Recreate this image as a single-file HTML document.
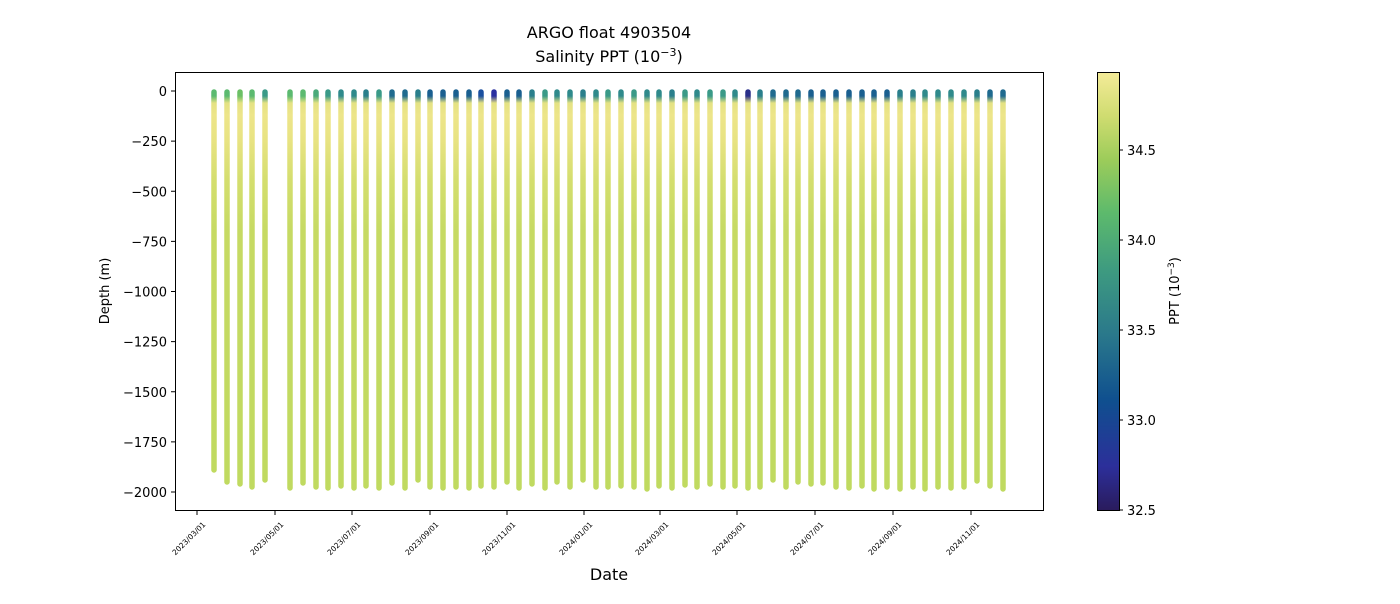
<!DOCTYPE html>
<html><head><meta charset="utf-8"><style>
body{margin:0;background:#fff;font-family:"DejaVu Sans","Liberation Sans",sans-serif;}
svg text{font-family:"DejaVu Sans","Liberation Sans",sans-serif;}
</style></head><body>
<svg id="s" width="1400" height="600" xmlns="http://www.w3.org/2000/svg">
<defs>
<linearGradient id="cb" x1="0" y1="1" x2="0" y2="0">
<stop offset="0" stop-color="#2a1b5c"/>
<stop offset="0.1" stop-color="#2c2f9a"/>
<stop offset="0.25" stop-color="#0f4f8f"/>
<stop offset="0.4" stop-color="#2a788b"/>
<stop offset="0.55" stop-color="#3e9b80"/>
<stop offset="0.68" stop-color="#5dba6c"/>
<stop offset="0.8" stop-color="#9ccc5a"/>
<stop offset="0.9" stop-color="#cfdc70"/>
<stop offset="1" stop-color="#f4eb98"/>
</linearGradient>
</defs>
<text x="609" y="38" font-size="16" text-anchor="middle">ARGO float 4903504</text>
<text x="609" y="62" font-size="16" text-anchor="middle">Salinity PPT (10<tspan dy="-6" font-size="11">−3</tspan><tspan dy="6">)</tspan></text>
<g id="bars"></g>
<rect x="175.5" y="72.5" width="868" height="438" fill="none" stroke="#000" stroke-width="1"/>
<g font-size="13" text-anchor="end" id="yt"></g>
<text transform="translate(109,291) rotate(-90)" font-size="13" text-anchor="middle">Depth (m)</text>
<g id="xt" font-size="7.5"></g>
<text x="609" y="580" font-size="16" text-anchor="middle">Date</text>
<rect x="1097.5" y="72.5" width="22" height="438" fill="url(#cb)" stroke="#000" stroke-width="1"/>
<g font-size="13" id="ct"></g>
<text transform="translate(1179,291) rotate(-90)" font-size="13" text-anchor="middle">PPT (10<tspan dy="-5" font-size="9">−3</tspan><tspan dy="5">)</tspan></text>
</svg>
<script>
var NS="http://www.w3.org/2000/svg",s=document.getElementById('s');
function el(t,a,p,tx){var e=document.createElementNS(NS,t);for(var k in a)e.setAttribute(k,a[k]);if(tx)e.textContent=tx;(p||s).appendChild(e);return e;}
function Y(d){return 91-d*401/2000;}
var yt=document.getElementById('yt');
for(var d=0;d>=-2000;d-=250){var y=Y(d);el('line',{x1:171,x2:175,y1:y,y2:y,stroke:'#000'},yt);el('text',{x:167,y:y+5},yt,(d<0?'−':'')+Math.abs(d));}
var xt=document.getElementById('xt');
var labs=['2023/03/01','2023/05/01','2023/07/01','2023/09/01','2023/11/01','2024/01/01','2024/03/01','2024/05/01','2024/07/01','2024/09/01','2024/11/01'];
var lx=[197,275,352,430,507,584,660,737,815,893,971];
labs.forEach(function(l,i){el('line',{x1:lx[i],x2:lx[i],y1:511,y2:515,stroke:'#000'},xt);var ax=lx[i]+9,ay=525;el('text',{x:ax,y:ay,'text-anchor':'end',transform:'rotate(-45 '+ax+' '+ay+')'},xt,l);});
var ct=document.getElementById('ct');
[[34.5,150],[34.0,240],[33.5,330],[33.0,420],[32.5,510]].forEach(function(c){el('line',{x1:1119,x2:1123,y1:c[1],y2:c[1],stroke:'#000'},ct);el('text',{x:1127,y:c[1]+5},ct,c[0].toFixed(1));});
var xs=[214,227,240,252,265,290,303,316,328,341,354,366,379,392,405,418,430,443,456,469,481,494,507,519,532,545,557,570,583,596,608,621,634,647,659,672,685,697,710,723,735,748,760,773,786,798,811,823,836,849,862,874,887,900,913,925,938,951,964,977,990,1003];
var bot=[-1890,-1950,-1960,-1975,-1940,-1980,-1955,-1975,-1980,-1970,-1980,-1970,-1980,-1955,-1980,-1940,-1975,-1980,-1975,-1980,-1970,-1975,-1950,-1980,-1960,-1980,-1950,-1975,-1940,-1975,-1975,-1970,-1975,-1985,-1970,-1980,-1965,-1975,-1960,-1975,-1970,-1980,-1975,-1940,-1975,-1950,-1960,-1955,-1975,-1980,-1970,-1985,-1975,-1985,-1975,-1985,-1975,-1980,-1975,-1945,-1970,-1985];
var tops=['#5cba70','#5cba70','#6cc066','#5cba70','#3a9a88','#5cba70','#5cba70','#4aaa7a','#3a9a88','#2f8a8c','#2f8a8c','#2a7f8c','#3a9a88','#1f6a8f','#1f6a8f','#2a7f8c','#1a5f90','#1a5f90','#1a5f90','#1a5f90','#1a4fa0','#2a2fa0','#1a5f90','#1a5f90','#2a7f8c','#3a9a88','#2f8a8c','#2f8a8c','#2a7f8c','#2f8a8c','#3a9a88','#2f8a8c','#3a9a88','#2f8a8c','#2f8a8c','#2a7f8c','#3a9a88','#2f8a8c','#3a9a88','#3a9a88','#2f8a8c','#2a2f8a','#2a7f8c','#1f6a8f','#1f6a8f','#1f6a8f','#1a5f90','#1a5f90','#1a5f90','#1a5f90','#1a5f90','#1a5f90','#1a5f90','#2a7f8c','#2a7f8c','#2f8a8c','#2f8a8c','#2f8a8c','#2f8a8c','#2a7f8c','#1f6a8f','#1f6a8f'];
var defs=s.querySelector('defs'),g=document.getElementById('bars');
xs.forEach(function(x,i){
 var y0=Y(-5),y1=Y(bot[i]);
 var lg=el('linearGradient',{id:'g'+i,x1:0,y1:y0,x2:0,y2:y1,gradientUnits:'userSpaceOnUse'},defs);
 function st(d,c){el('stop',{offset:((Y(d)-y0)/(y1-y0)).toFixed(4),'stop-color':c},lg);}
 st(-5,tops[i]);st(-25,tops[i]);st(-60,'#e4e283');st(-120,'#ede58a');st(-250,'#e8e382');st(-450,'#d4de6e');st(-700,'#c6da63');st(bot[i],'#c0da60');
 el('line',{x1:x,x2:x,y1:y0,y2:y1,stroke:'url(#g'+i+')','stroke-width':5.5,'stroke-linecap':'round'},g);
});
</script>
</body></html>
